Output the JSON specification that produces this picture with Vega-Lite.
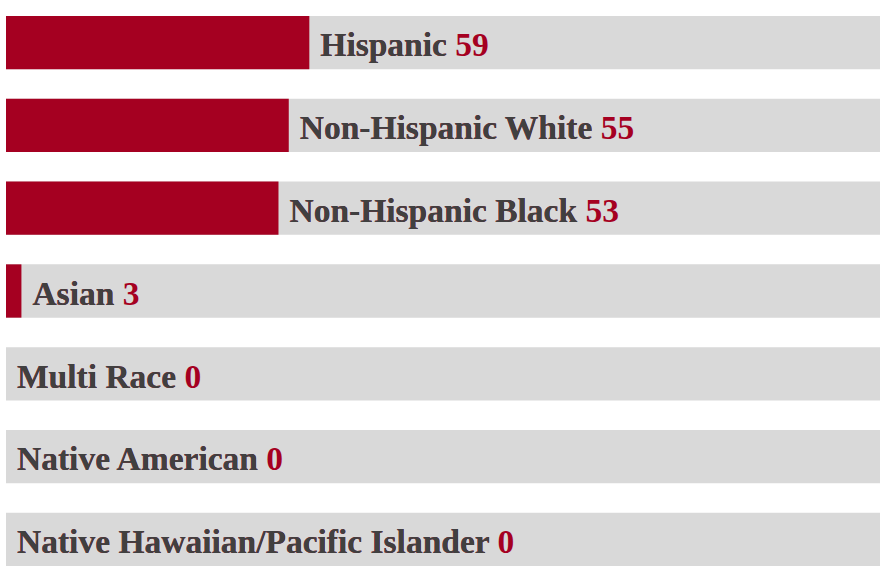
{
  "$schema": "https://vega.github.io/schema/vega-lite/v6.json",
  "width": 874,
  "height": 550,
  "autosize": "none",
  "padding": {"left": 6, "right": 2, "top": 16, "bottom": 5},
  "background": "white",
  "config": {"view": {"stroke": null}},
  "data": {
    "values": [
      {"category": "Hispanic", "value": 59, "total": 170},
      {"category": "Non-Hispanic White", "value": 55, "total": 170},
      {"category": "Non-Hispanic Black", "value": 53, "total": 170},
      {"category": "Asian", "value": 3, "total": 170},
      {"category": "Multi Race", "value": 0, "total": 170},
      {"category": "Native American", "value": 0, "total": 170},
      {"category": "Native Hawaiian/Pacific Islander", "value": 0, "total": 170}
    ]
  },
  "transform": [
    {"calculate": "datum.category + ' ' + datum.value", "as": "label"}
  ],
  "encoding": {
    "y": {
      "field": "category",
      "type": "nominal",
      "sort": null,
      "axis": null,
      "scale": {"paddingInner": 0.356, "paddingOuter": 0}
    }
  },
  "layer": [
    {
      "mark": {"type": "bar", "color": "#d9d9d9"},
      "encoding": {
        "x": {"field": "total", "type": "quantitative", "axis": null, "scale": {"domain": [0, 170], "nice": false, "zero": true}}
      }
    },
    {
      "mark": {"type": "bar", "color": "#a50021"},
      "encoding": {
        "x": {"field": "value", "type": "quantitative"}
      }
    },
    {
      "mark": {"type": "text", "align": "left", "baseline": "alphabetic", "dx": 11, "dy": 13.8, "font": "Liberation Serif", "fontWeight": "bold", "fontSize": 33.5, "color": "#a50021"},
      "encoding": {
        "x": {"field": "value", "type": "quantitative"},
        "text": {"field": "label"}
      }
    },
    {
      "mark": {"type": "text", "align": "left", "baseline": "alphabetic", "dx": 11, "dy": 13.8, "font": "Liberation Serif", "fontWeight": "bold", "fontSize": 33.5, "color": "#404040"},
      "encoding": {
        "x": {"field": "value", "type": "quantitative"},
        "text": {"field": "category"}
      }
    }
  ]
}
